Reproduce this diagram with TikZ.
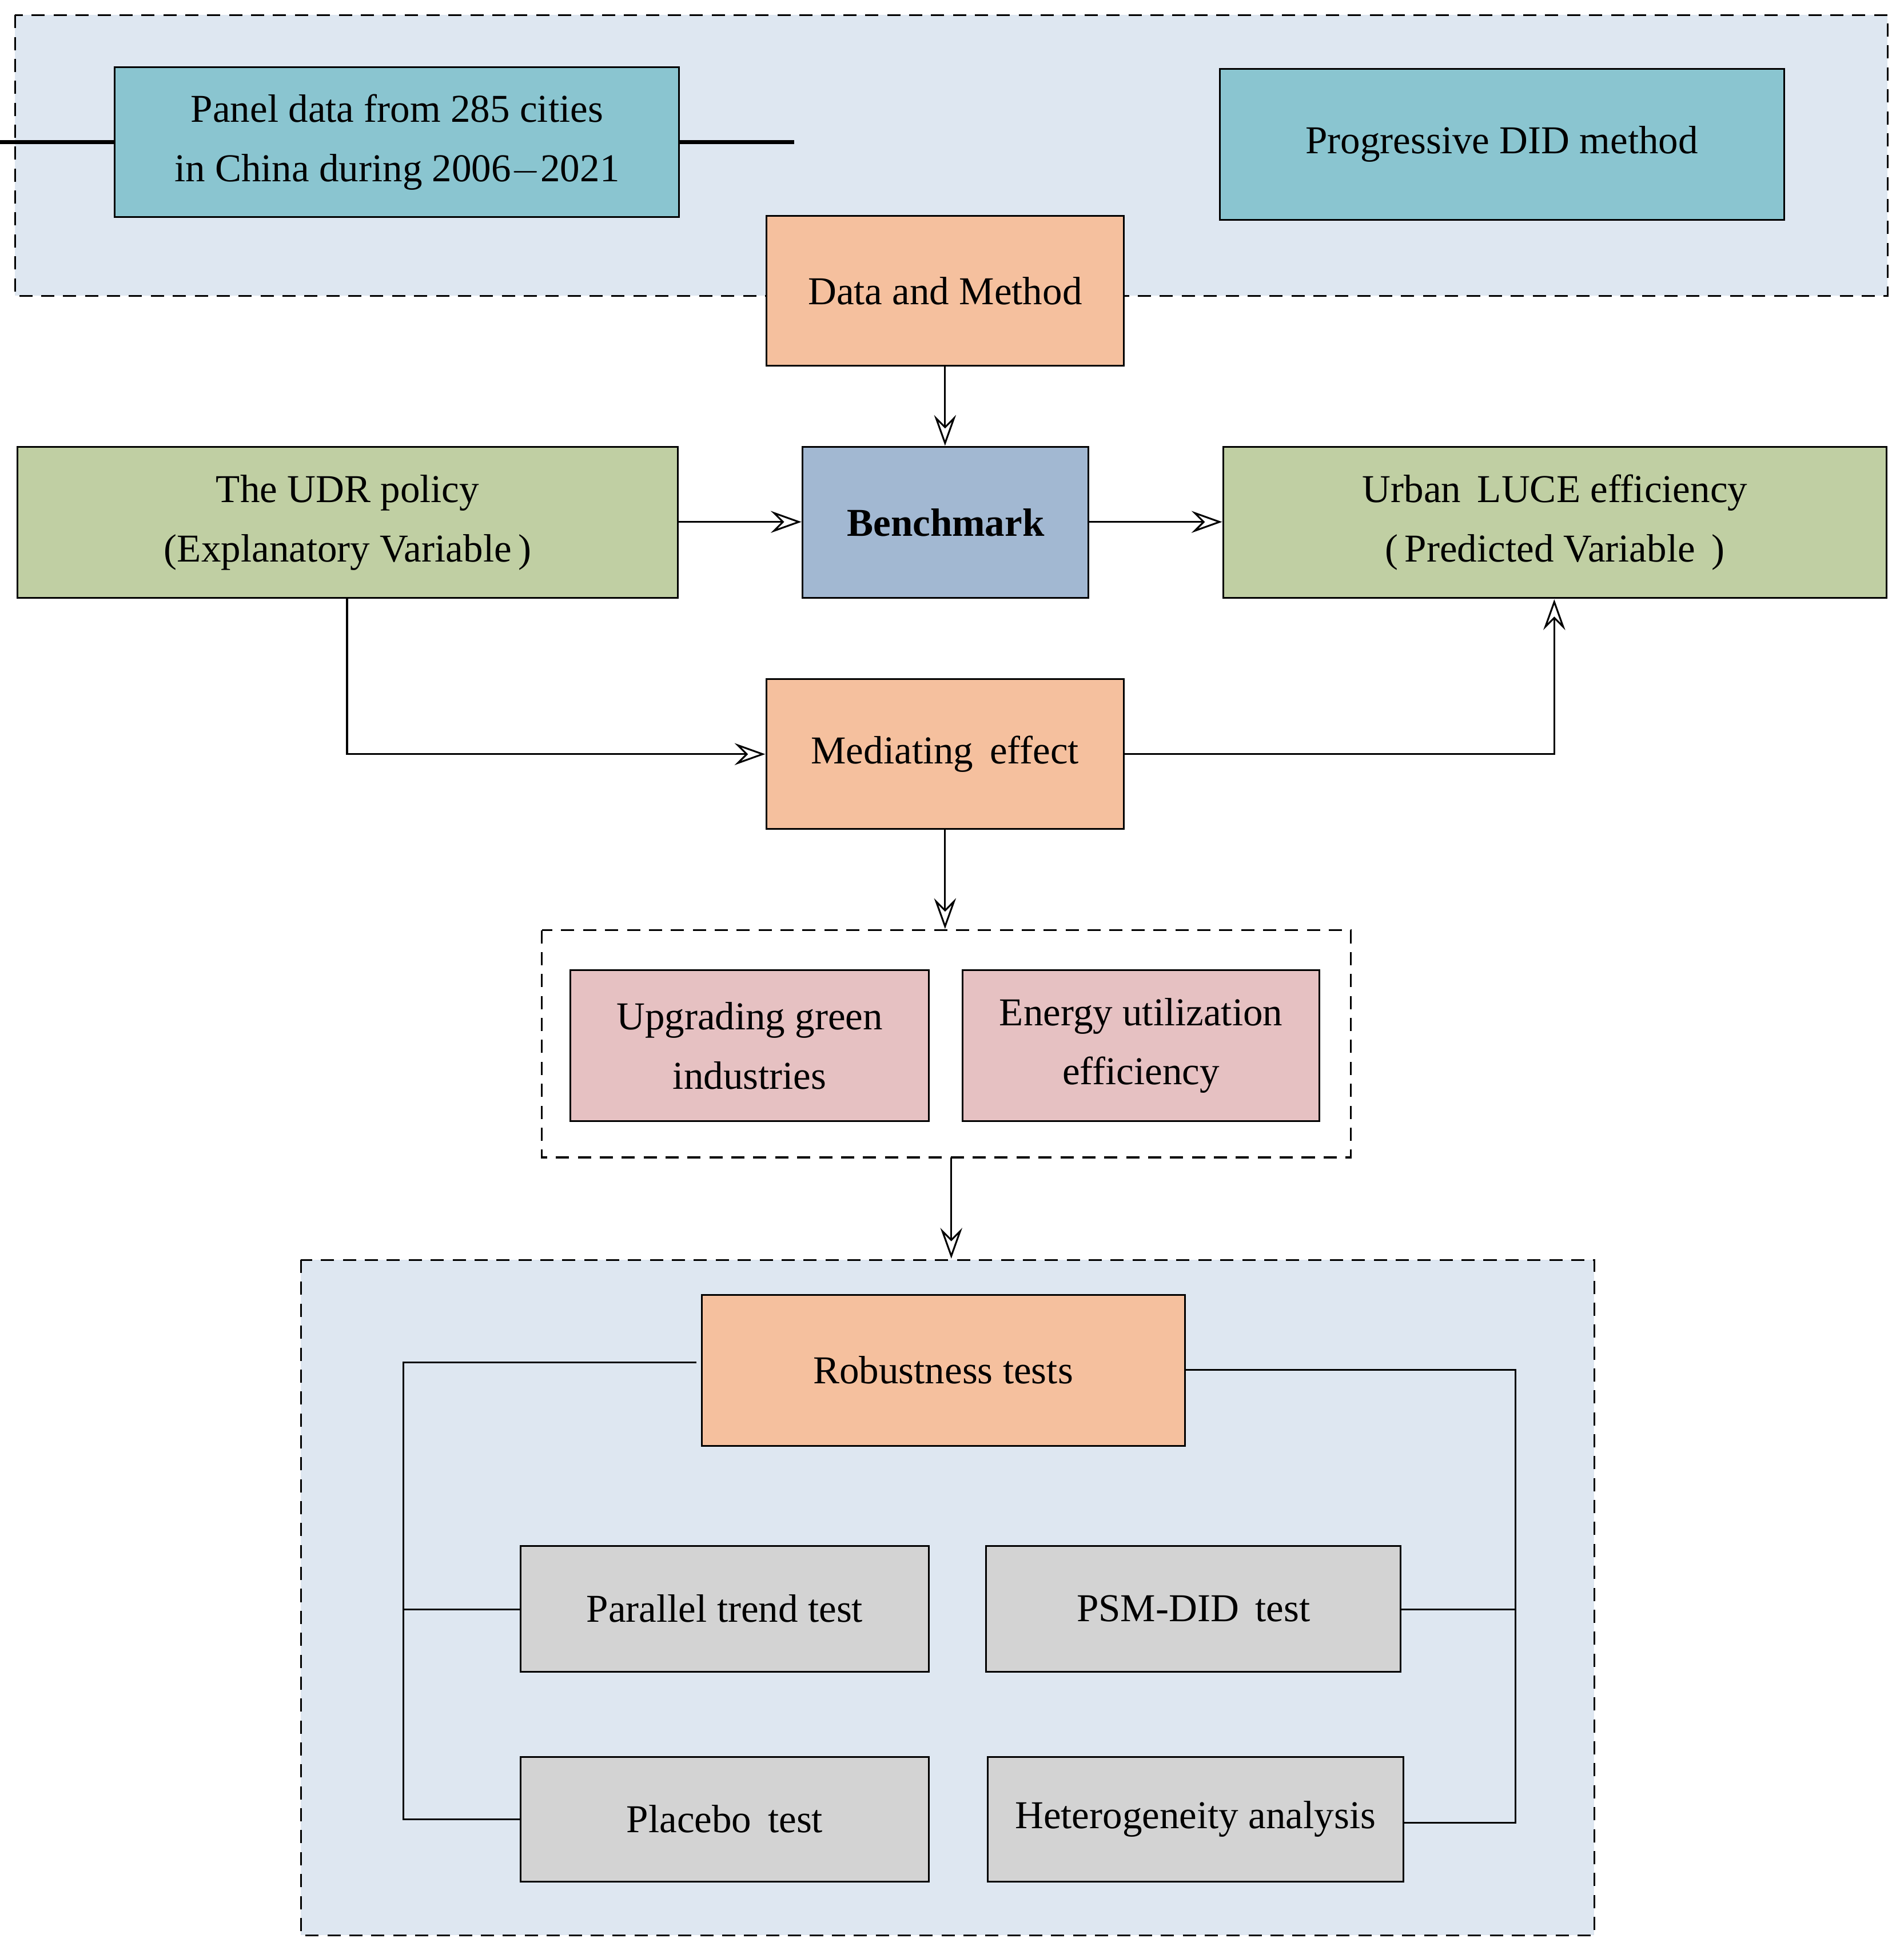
\documentclass[tikz,border=0pt]{standalone}
\usepackage{fontspec}
\setmainfont{Liberation Serif}
\usetikzlibrary{arrows.meta, calc}
\definecolor{regionColor}{HTML}{DEE7F1}
\definecolor{dataColor}{HTML}{8AC5D0}
\definecolor{stepColor}{HTML}{F5C09E}
\definecolor{varColor}{HTML}{C0CFA3}
\definecolor{benchColor}{HTML}{A2B8D2}
\definecolor{mediatorColor}{HTML}{E6C1C2}
\definecolor{testColor}{HTML}{D3D3D3}

\begin{document}
\begin{tikzpicture}[
            x=0.02cm, y=-0.02cm,
            every node/.append style={font=\fontsize{18}{27}\selectfont, align=center},
            region/.style={draw, thick, dashed, dash pattern=on 6pt off 4pt},
            box/.style={draw, thick, inner sep=0pt},
            link/.style={thick},
            flow/.style={thick, -{Stealth[open, length=14pt, width=10pt, inset=5pt]}}
        ]
        \useasboundingbox (0,0) rectangle (1525,1565);
        % regions
        \draw[region, fill=regionColor] (12,12) rectangle (1512,237);
        \draw[region] (434,745) rectangle (1082,927);
        \draw[region, fill=regionColor] (241,1009) rectangle (1277,1550);
        % boxes
        \node[box, fill=dataColor, minimum width=452\pgflinewidth] (panel) at (318,114) {};
        \draw[box, fill=dataColor] (92,54) rectangle (544,174) node[midway] (panelText) {Panel data from 285 cities\\in China during 2006$-$2021};
        \draw[box, fill=dataColor] (977,55) rectangle (1429,176) node[midway] (did) {Progressive DID method};
        \draw[box, fill=stepColor] (614,173) rectangle (900,293) node[midway] (data) {Data and Method};
        \draw[box, fill=varColor] (14,358) rectangle (543,479) node[midway] (udr) {The UDR policy\\(Explanatory Variable\,)};
        \draw[box, fill=benchColor] (643,358) rectangle (872,479) node[midway] (bench) {\textbf{Benchmark}};
        \draw[box, fill=varColor] (980,358) rectangle (1511,479) node[midway] (luce) {Urban\, LUCE efficiency\\(\,Predicted Variable\, )};
        \draw[box, fill=stepColor] (614,544) rectangle (900,664) node[midway] (mediating) {Mediating\, effect};
        \draw[box, fill=mediatorColor] (457,777) rectangle (744,898) node[midway] (green) {Upgrading green\\industries};
        \draw[box, fill=mediatorColor] (771,777) rectangle (1057,898) node[midway] (energy) {Energy utilization\\efficiency};
        \draw[box, fill=stepColor] (562,1037) rectangle (949,1158) node[midway] (robust) {Robustness tests};
        \draw[box, fill=testColor] (417,1238) rectangle (744,1339) node[midway] (parallel) {Parallel trend test};
        \draw[box, fill=testColor] (790,1238) rectangle (1122,1339) node[midway] (psm) {PSM-DID\, test};
        \draw[box, fill=testColor] (417,1407) rectangle (744,1507) node[midway] (placebo) {Placebo\, test};
        \draw[box, fill=testColor] (791,1407) rectangle (1124,1507) node[midway] (hetero) {Heterogeneity analysis};
        % connectors
        \coordinate (dataS) at (757,293);
        \coordinate (benchN) at (757,357);
        \coordinate (udrE) at (543,418);
        \coordinate (benchW) at (642,418);
        \coordinate (benchE) at (872,418);
        \coordinate (luceW) at (979,418);
        \coordinate (udrS) at (278,479);
        \coordinate (medW) at (613,604);
        \coordinate (medE) at (900,604);
        \coordinate (luceS) at (1245,480);
        \coordinate (medS) at (757,664);
        \coordinate (mixN) at (757,744);
        \coordinate (mixS) at (762,927);
        \coordinate (testN) at (762,1008);
        \draw[flow] (dataS) -- (benchN);
        \draw[flow] (udrE) -- (benchW);
        \draw[flow] (benchE) -- (luceW);
        \draw[flow] (udrS) |- (medW);
        \draw[flow] (medE) -| (luceS);
        \draw[flow] (medS) -- (mixN);
        \draw[flow] (mixS) -- (testN);
        % brackets
        \draw[link] (558,1091) -- (323,1091) -- (323,1457) -- (417,1457);
        \draw[link] (323,1289) -- (417,1289);
        \draw[link] (949,1097) -- (1214,1097) -- (1214,1460) -- (1124,1460);
        \draw[link] (1122,1289) -- (1214,1289);
    \end{tikzpicture}
\end{document}
